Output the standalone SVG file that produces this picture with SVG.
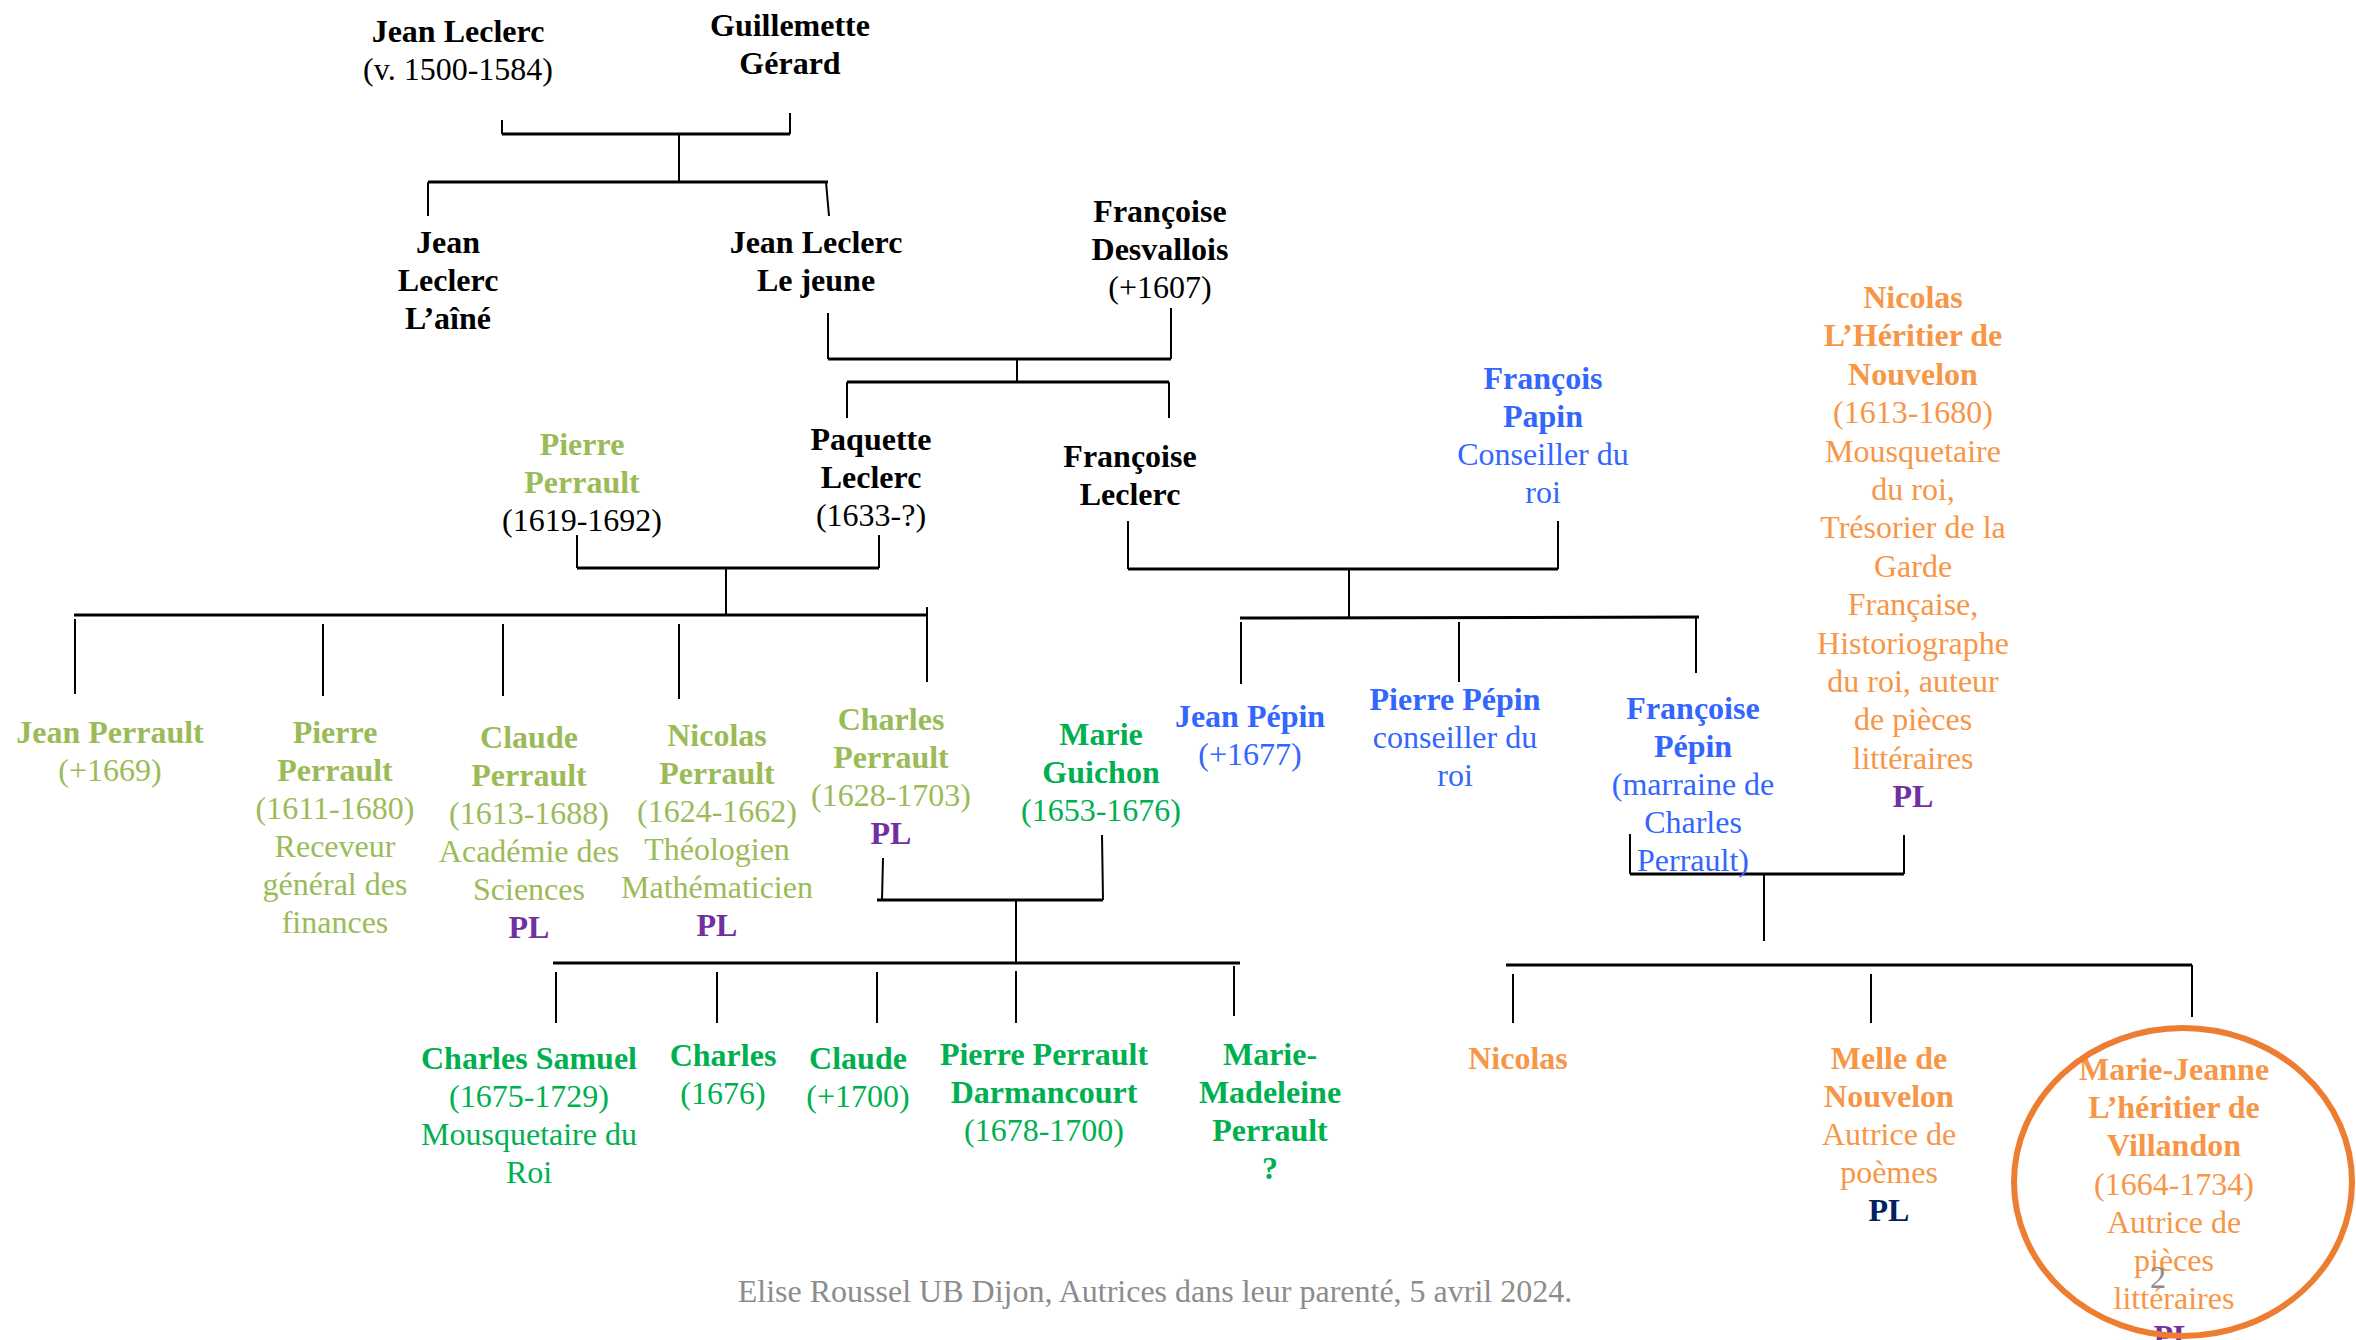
<svg xmlns="http://www.w3.org/2000/svg" width="2356" height="1340" viewBox="0 0 2356 1340">
<style>
text{font-family:"Liberation Serif","Times New Roman",serif;font-size:32px;text-anchor:middle}
.b{font-weight:bold}
.k{fill:#000}
.ol{fill:#9BBB59}
.gr{fill:#00B050}
.bl{fill:#3366FF}
.or{fill:#F79646}
.pl{fill:#7030A0;font-weight:bold}
.nv{fill:#002060;font-weight:bold}
.ft{fill:#8C8C8C}
#connectors line{stroke:#000;stroke-width:2}
#connectors line.h{stroke-width:3}
</style>
<rect width="2356" height="1340" fill="#fff"/>
<g id="connectors">
<line x1="502" y1="120" x2="502" y2="134"/>
<line class="h" x1="502" y1="134" x2="790" y2="134"/>
<line x1="790" y1="113" x2="790" y2="134"/>
<line x1="679" y1="134" x2="679" y2="182"/>
<line class="h" x1="428" y1="182" x2="828" y2="182"/>
<line x1="428" y1="182" x2="428" y2="216"/>
<line x1="826" y1="182" x2="829" y2="216"/>
<line x1="828" y1="313" x2="828" y2="359"/>
<line x1="1171" y1="308" x2="1171" y2="359"/>
<line class="h" x1="828" y1="359" x2="1171" y2="359"/>
<line x1="1017" y1="359" x2="1017" y2="382"/>
<line class="h" x1="847" y1="382" x2="1169" y2="382"/>
<line x1="847" y1="382" x2="847" y2="418"/>
<line x1="1169" y1="382" x2="1169" y2="418"/>
<line x1="577" y1="535" x2="577" y2="568"/>
<line x1="879" y1="535" x2="879" y2="568"/>
<line class="h" x1="577" y1="568" x2="879" y2="568"/>
<line x1="726" y1="568" x2="726" y2="615"/>
<line class="h" x1="74" y1="615" x2="927" y2="615"/>
<line x1="75" y1="619" x2="75" y2="694"/>
<line x1="323" y1="624" x2="323" y2="696"/>
<line x1="503" y1="624" x2="503" y2="696"/>
<line x1="679" y1="624" x2="679" y2="699"/>
<line x1="927" y1="607" x2="927" y2="682"/>
<line x1="883" y1="858" x2="882" y2="900"/>
<line x1="1102" y1="835" x2="1103" y2="900"/>
<line class="h" x1="877" y1="900" x2="1103" y2="900"/>
<line x1="1016" y1="900" x2="1016" y2="963"/>
<line class="h" x1="553" y1="963" x2="1240" y2="963"/>
<line x1="556" y1="972" x2="556" y2="1023"/>
<line x1="717" y1="972" x2="717" y2="1023"/>
<line x1="877" y1="972" x2="877" y2="1023"/>
<line x1="1016" y1="971" x2="1016" y2="1023"/>
<line x1="1234" y1="966" x2="1234" y2="1016"/>
<line x1="1128" y1="521" x2="1128" y2="569"/>
<line x1="1558" y1="521" x2="1558" y2="569"/>
<line class="h" x1="1128" y1="569" x2="1558" y2="569"/>
<line x1="1349" y1="569" x2="1349" y2="618"/>
<line class="h" x1="1240" y1="618" x2="1699" y2="617"/>
<line x1="1241" y1="622" x2="1241" y2="684"/>
<line x1="1459" y1="622" x2="1459" y2="682"/>
<line x1="1696" y1="618" x2="1696" y2="673"/>
<line x1="1630" y1="834" x2="1630" y2="874"/>
<line x1="1904" y1="835" x2="1904" y2="874"/>
<line class="h" x1="1630" y1="874" x2="1904" y2="874"/>
<line x1="1764" y1="874" x2="1764" y2="941"/>
<line class="h" x1="1506" y1="965" x2="2192" y2="965"/>
<line x1="1513" y1="974" x2="1513" y2="1023"/>
<line x1="1871" y1="974" x2="1871" y2="1023"/>
<line x1="2192" y1="965" x2="2192" y2="1017"/>
</g>
<g id="jean-leclerc"><text><tspan x="458" y="42" class="b">Jean Leclerc</tspan><tspan x="458" dy="38">(v. 1500-1584)</tspan></text></g>
<g id="guillemette-gerard"><text class="b"><tspan x="790" y="36">Guillemette</tspan><tspan x="790" dy="38">Gérard</tspan></text></g>
<g id="jean-leclerc-aine"><text class="b"><tspan x="448" y="253">Jean</tspan><tspan x="448" dy="38">Leclerc</tspan><tspan x="448" dy="38">L’aîné</tspan></text></g>
<g id="jean-leclerc-jeune"><text class="b"><tspan x="816" y="253">Jean Leclerc</tspan><tspan x="816" dy="38">Le jeune</tspan></text></g>
<g id="francoise-desvallois"><text><tspan x="1160" y="222" class="b">Françoise</tspan><tspan x="1160" dy="38" class="b">Desvallois</tspan><tspan x="1160" dy="38">(+1607)</tspan></text></g>
<g id="paquette-leclerc"><text><tspan x="871" y="450" class="b">Paquette</tspan><tspan x="871" dy="38" class="b">Leclerc</tspan><tspan x="871" dy="38">(1633-?)</tspan></text></g>
<g id="francoise-leclerc"><text class="b"><tspan x="1130" y="467">Françoise</tspan><tspan x="1130" dy="38">Leclerc</tspan></text></g>
<g id="pierre-perrault-pere"><text><tspan x="582" y="455" class="b ol">Pierre</tspan><tspan x="582" dy="38" class="b ol">Perrault</tspan><tspan x="582" dy="38" class="k">(1619-1692)</tspan></text></g>
<g id="jean-perrault"><text class="ol"><tspan x="110" y="743" class="b">Jean Perrault</tspan><tspan x="110" dy="38">(+1669)</tspan></text></g>
<g id="pierre-perrault"><text class="ol"><tspan x="335" y="743" class="b">Pierre</tspan><tspan x="335" dy="38" class="b">Perrault</tspan><tspan x="335" dy="38">(1611-1680)</tspan><tspan x="335" dy="38">Receveur</tspan><tspan x="335" dy="38">général des</tspan><tspan x="335" dy="38">finances</tspan></text></g>
<g id="claude-perrault"><text class="ol"><tspan x="529" y="748" class="b">Claude</tspan><tspan x="529" dy="38" class="b">Perrault</tspan><tspan x="529" dy="38">(1613-1688)</tspan><tspan x="529" dy="38">Académie des</tspan><tspan x="529" dy="38">Sciences</tspan><tspan x="529" dy="38" class="pl">PL</tspan></text></g>
<g id="nicolas-perrault"><text class="ol"><tspan x="717" y="746" class="b">Nicolas</tspan><tspan x="717" dy="38" class="b">Perrault</tspan><tspan x="717" dy="38">(1624-1662)</tspan><tspan x="717" dy="38">Théologien</tspan><tspan x="717" dy="38">Mathématicien</tspan><tspan x="717" dy="38" class="pl">PL</tspan></text></g>
<g id="charles-perrault"><text class="ol"><tspan x="891" y="730" class="b">Charles</tspan><tspan x="891" dy="38" class="b">Perrault</tspan><tspan x="891" dy="38">(1628-1703)</tspan><tspan x="891" dy="38" class="pl">PL</tspan></text></g>
<g id="marie-guichon"><text class="gr"><tspan x="1101" y="745" class="b">Marie</tspan><tspan x="1101" dy="38" class="b">Guichon</tspan><tspan x="1101" dy="38">(1653-1676)</tspan></text></g>
<g id="charles-samuel"><text class="gr"><tspan x="529" y="1069" class="b">Charles Samuel</tspan><tspan x="529" dy="38">(1675-1729)</tspan><tspan x="529" dy="38">Mousquetaire du</tspan><tspan x="529" dy="38">Roi</tspan></text></g>
<g id="charles"><text class="gr"><tspan x="723" y="1066" class="b">Charles</tspan><tspan x="723" dy="38">(1676)</tspan></text></g>
<g id="claude"><text class="gr"><tspan x="858" y="1069" class="b">Claude</tspan><tspan x="858" dy="38">(+1700)</tspan></text></g>
<g id="pierre-perrault-darmancourt"><text class="gr"><tspan x="1044" y="1065" class="b">Pierre Perrault</tspan><tspan x="1044" dy="38" class="b">Darmancourt</tspan><tspan x="1044" dy="38">(1678-1700)</tspan></text></g>
<g id="marie-madeleine"><text class="gr b"><tspan x="1270" y="1065">Marie-</tspan><tspan x="1270" dy="38">Madeleine</tspan><tspan x="1270" dy="38">Perrault</tspan><tspan x="1270" dy="38">?</tspan></text></g>
<g id="francois-papin"><text class="bl"><tspan x="1543" y="389" class="b">François</tspan><tspan x="1543" dy="38" class="b">Papin</tspan><tspan x="1543" dy="38">Conseiller du</tspan><tspan x="1543" dy="38">roi</tspan></text></g>
<g id="jean-pepin"><text class="bl"><tspan x="1250" y="727" class="b">Jean Pépin</tspan><tspan x="1250" dy="38">(+1677)</tspan></text></g>
<g id="pierre-pepin"><text class="bl"><tspan x="1455" y="710" class="b">Pierre Pépin</tspan><tspan x="1455" dy="38">conseiller du</tspan><tspan x="1455" dy="38">roi</tspan></text></g>
<g id="francoise-pepin"><text class="bl"><tspan x="1693" y="719" class="b">Françoise</tspan><tspan x="1693" dy="38" class="b">Pépin</tspan><tspan x="1693" dy="38">(marraine de</tspan><tspan x="1693" dy="38">Charles</tspan><tspan x="1693" dy="38">Perrault)</tspan></text></g>
<g id="nicolas-heritier"><text class="or"><tspan x="1913" y="308" class="b">Nicolas</tspan><tspan x="1913" dy="38.4" class="b">L’Héritier de</tspan><tspan x="1913" dy="38.4" class="b">Nouvelon</tspan><tspan x="1913" dy="38.4">(1613-1680)</tspan><tspan x="1913" dy="38.4">Mousquetaire</tspan><tspan x="1913" dy="38.4">du roi,</tspan><tspan x="1913" dy="38.4">Trésorier de la</tspan><tspan x="1913" dy="38.4">Garde</tspan><tspan x="1913" dy="38.4">Française,</tspan><tspan x="1913" dy="38.4">Historiographe</tspan><tspan x="1913" dy="38.4">du roi, auteur</tspan><tspan x="1913" dy="38.4">de pièces</tspan><tspan x="1913" dy="38.4">littéraires</tspan><tspan x="1913" dy="38.4" class="pl">PL</tspan></text></g>
<g id="nicolas"><text class="or b" x="1518" y="1069">Nicolas</text></g>
<g id="melle-de-nouvelon"><text class="or"><tspan x="1889" y="1069" class="b">Melle de</tspan><tspan x="1889" dy="38" class="b">Nouvelon</tspan><tspan x="1889" dy="38">Autrice de</tspan><tspan x="1889" dy="38">poèmes</tspan><tspan x="1889" dy="38" class="nv">PL</tspan></text></g>
<g id="marie-jeanne"><text class="or"><tspan x="2174" y="1080" class="b">Marie-Jeanne</tspan><tspan x="2174" dy="38.2" class="b">L’héritier de</tspan><tspan x="2174" dy="38.2" class="b">Villandon</tspan><tspan x="2174" dy="38.2">(1664-1734)</tspan><tspan x="2174" dy="38.2">Autrice de</tspan><tspan x="2174" dy="38.2">pièces</tspan><tspan x="2174" dy="38.2">littéraires</tspan><tspan x="2174" dy="38.2" class="pl">PL</tspan></text><ellipse cx="2183" cy="1182" rx="169" ry="154" fill="none" stroke="#ED7D31" stroke-width="6"/></g>
<g id="footer"><text class="ft" x="1155" y="1302">Elise Roussel UB Dijon, Autrices dans leur parenté, 5 avril 2024.</text><text class="ft" x="2158" y="1288">2</text></g>
</svg>
